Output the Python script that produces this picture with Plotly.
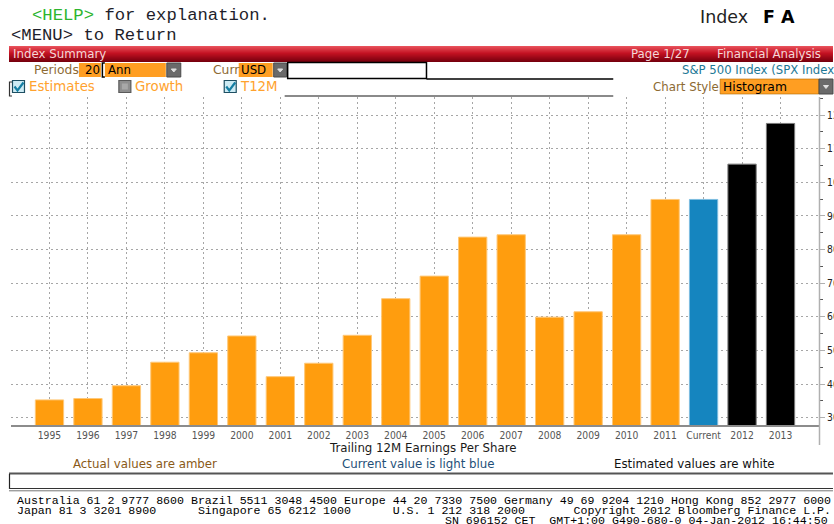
import plotly.graph_objects as go

# ---------------- data ----------------
categories = ["1995", "1996", "1997", "1998", "1999", "2000", "2001", "2002", "2003",
              "2004", "2005", "2006", "2007", "2008", "2009", "2010", "2011",
              "Current", "2012", "2013"]
eps_values = [35.3, 35.7, 39.5, 46.5, 49.3, 54.3, 42.2, 46.2, 54.5,
              65.4, 72.1, 83.7, 84.4, 59.9, 61.5, 84.4, 94.9,
              94.9, 105.4, 117.5]
bar_kind = ["actual"] * 17 + ["current"] + ["estimate"] * 2
y_ticks = [30, 40, 50, 60, 70, 80, 90, 100, 110, 120]

# ---------------- styling ----------------
fill_by_kind = {"actual": "#FF9D0E", "current": "#1585BF", "estimate": "#000000"}
edge_by_kind = {"actual": "#FFC878", "current": "#7DBDE0", "estimate": "#7A7A7A"}

# target picture geometry (pixels of the 834x524 picture)
W, H = 834, 524
L, R, T, B = 11, 820, 97, 425          # plot area
# horizontal compensation: the page is captured ~856 px wide and fitted to 834
K = 856 / 834
WF = 856
x_range = [-1.0, len(categories)]
y_range = [27.83, 125.36]


def px(x):
    return (x - L) / (R - L)


def py(y):
    return (B - y) / (B - T)


def fs(size):
    return round(size * K, 2)


shapes = []
annotations = []


def rect(x0, y0, x1, y1, fill, line=None, lw=0):
    shapes.append(dict(type="rect", xref="paper", yref="paper",
                       x0=px(x0), x1=px(x1), y0=py(y0), y1=py(y1),
                       fillcolor=fill, layer="above",
                       line=dict(color=line or fill, width=lw)))


def seg(x0, y0, x1, y1, color, width=1):
    shapes.append(dict(type="line", xref="paper", yref="paper",
                       x0=px(x0), x1=px(x1), y0=py(y0), y1=py(y1), layer="above",
                       line=dict(color=color, width=width)))


def path(points, color, width=1, fill=None, closed=False):
    d = "M " + " L ".join(f"{px(a):.5f},{py(b):.5f}" for a, b in points)
    if closed:
        d += " Z"
    shapes.append(dict(type="path", xref="paper", yref="paper", path=d, layer="above",
                       fillcolor=fill or "rgba(0,0,0,0)",
                       line=dict(color=color, width=width)))


def text(x, y, s, size, color, family="DejaVu Sans", anchor="left"):
    annotations.append(dict(xref="paper", yref="paper", x=px(x), y=py(y), text=s,
                            showarrow=False, xanchor=anchor, yanchor="middle",
                            font=dict(size=fs(size), color=color, family=family)))


MONO = "Liberation Mono, DejaVu Sans Mono, monospace"
SANS = "DejaVu Sans, Verdana, sans-serif"

# ---- top text ----
text(30, 16, '<span style="color:#2DB52D">&lt;HELP&gt;</span> for explanation.', 16.8, "#1E1E2A", MONO)
text(9, 36, "&lt;MENU&gt; to Return", 16.8, "#1E1E2A", MONO)
text(699, 17, "Index", 17, "#222222", SANS)
text(762, 17, "<b>F A</b>", 17, "#000000", SANS)

# ---- red header bar (vertical gradient) ----
top_c, mid_c, bot_c = (232, 80, 90), (196, 18, 34), (120, 0, 14)
n_rows = 16
for i in range(n_rows):
    t = i / (n_rows - 1)
    if t < 0.45:
        u = t / 0.45
        c = [int(top_c[k] + (mid_c[k] - top_c[k]) * u) for k in range(3)]
    else:
        u = (t - 0.45) / 0.55
        c = [int(mid_c[k] + (bot_c[k] - mid_c[k]) * u) for k in range(3)]
    rect(9, 46 + i, 834, 47 + i, f"rgb({c[0]},{c[1]},{c[2]})")
text(11, 54, "Index Summary", 11.5, "#F4D8D8", SANS)
text(630, 54, "Page 1/27", 11.5, "#F4D8D8", SANS)
text(716, 54, "Financial Analysis", 11.5, "#F4D8D8", SANS)

# ---- row 1 widgets ----
BROWN = "#8D6A33"
ORANGE_BOX = "#FF9E22"
text(32, 70, "Periods", 12, BROWN, SANS)
rect(79, 63, 101, 77, ORANGE_BOX)
text(83, 70, "20", 11.5, "#000000", SANS)
path([(105, 63), (102.5, 63), (102.5, 77), (105, 77)], "#000000", 1.5)
rect(105, 63, 166, 77, ORANGE_BOX)
text(106, 70, "Ann", 11.5, "#000000", SANS)


def dropdown(x0, y0, x1, y1):
    rect(x0, y0, x1, y1, "#6A6A6A", "#4A4A4A", 1)
    cx, cy = (x0 + x1) / 2, (y0 + y1) / 2
    path([(cx - 2.5, cy - 1), (cx + 2.5, cy - 1), (cx, cy + 2)], "#E0E0E0", 1, "#E0E0E0", True)


dropdown(167, 63, 181, 77)
text(211, 70, "Curr", 12, BROWN, SANS)
rect(239, 63, 273, 77, ORANGE_BOX)
text(239, 70, "USD", 11.5, "#000000", SANS)
dropdown(274, 63, 287, 77)
rect(288, 62.5, 427, 78.5, "#FFFFFF", "#000000", 1.5)
seg(427, 79, 614, 79, "#000000", 1.5)
text(681, 70, "S&amp;P 500 Index (SPX Index)", 11.4, "#1D7896", SANS)

# ---- row 2 widgets ----
path([(12, 82), (9.5, 82), (9.5, 96), (12, 96)], "#333333", 1.2)


def checkbox(x0, y0, checked):
    if checked:
        rect(x0, y0, x0 + 12, y0 + 12, "#CDEBF4", "#1E4F62", 1.2)
        path([(x0 + 2, y0 + 6), (x0 + 5, y0 + 10), (x0 + 11, y0 + 2)], "#157FA4", 2.2)
    else:
        rect(x0, y0, x0 + 12, y0 + 12, "#8E8E8E", "#5A5A5A", 1.2)
        rect(x0 + 3, y0 + 3, x0 + 9, y0 + 9, "#A8A8A8")


LIGHT_OR = "#FFA22E"
checkbox(12.5, 80.5, True)
text(27, 86, "Estimates", 13, LIGHT_OR, SANS)
checkbox(119, 80.5, False)
text(133, 86, "Growth", 13, LIGHT_OR, SANS)
checkbox(224.5, 80.5, True)
text(238, 86, "T12M", 13, LIGHT_OR, SANS)
seg(285, 96, 614, 96, "#8A8A8A", 2)
text(652, 87, "Chart Style", 11.5, BROWN, SANS)
rect(721, 79, 820, 94, ORANGE_BOX, "#B06A00", 0.6)
text(722, 87, "Histogram", 12, "#000000", SANS)
dropdown(820, 79, 834, 94)

# ---- right axis line extension ----
seg(820.5, 97, 820.5, 445, "#B0B0B0", 1.5)

# ---- bottom captions ----
text(424, 448, "Trailing 12M Earnings Per Share", 11.5, "#1A1A1A", SANS, "center")
text(71, 464, "Actual values are amber", 11.5, "#8A5A17", SANS)
text(340, 464, "Current value is light blue", 11.5, "#1F4F78", SANS)
text(613, 464, "Estimated values are white", 11.5, "#111111", SANS)
seg(9, 473.5, 834, 473.5, "#555555", 2)
seg(9.5, 474, 9.5, 489, "#222222", 1.2)
seg(9, 488.5, 834, 488.5, "#333333", 1)
seg(9, 490.8, 834, 490.8, "#777777", 1)

NB = "\u00a0"
footer1 = "Australia 61 2 9777 8600 Brazil 5511 3048 4500 Europe 44 20 7330 7500 Germany 49 69 9204 1210 Hong Kong 852 2977 6000"
footer2 = ("Japan 81 3 3201 8900" + NB * 6 + "Singapore 65 6212 1000" + NB * 6 +
           "U.S. 1 212 318 2000" + NB * 7 + "Copyright 2012 Bloomberg Finance L.P.")
footer3 = "SN 696152 CET" + NB * 2 + "GMT+1:00 G490-680-0 04-Jan-2012 16:44:50"
FOOT = 11.3
text(15, 500, footer1.replace(" ", NB), FOOT, "#000000", MONO)
text(15, 510, footer2.replace(" ", NB), FOOT, "#000000", MONO)
text(831, 520, footer3.replace(" ", NB), FOOT, "#000000", MONO, "right")

# ---------------- figure ----------------
x_idx = list(range(len(categories)))
fig = go.Figure()
fig.add_trace(go.Bar(
    x=x_idx, y=eps_values, width=0.735,
    marker=dict(color=[fill_by_kind[k] for k in bar_kind],
                line=dict(color=[edge_by_kind[k] for k in bar_kind], width=1)),
    hoverinfo="skip",
))

unit = (R - L) / (x_range[1] - x_range[0])
fig.add_trace(go.Scatter(
    x=[x_range[1] + 4.5 / unit] * len(y_ticks), y=y_ticks, mode="markers",
    marker=dict(symbol="triangle-right", size=6, color="#111111"),
    cliponaxis=False, hoverinfo="skip",
))

GRID = "#A6A6A6"
TICKFONT = "Liberation Sans Narrow, DejaVu Sans Condensed, sans-serif"
fig.update_layout(
    width=WF, height=H, autosize=False,
    margin=dict(l=L * K, r=WF - R * K, t=T, b=H - B),
    paper_bgcolor="#FFFFFF", plot_bgcolor="#FFFFFF",
    showlegend=False, bargap=0,
    shapes=shapes, annotations=annotations,
    xaxis=dict(range=x_range, tickmode="array", tickvals=x_idx, ticktext=categories,
               showgrid=True, gridcolor=GRID, griddash="2px,3px", gridwidth=1,
               showline=True, linecolor="#8C8C8C", linewidth=1.5, ticks="",
               zeroline=False, fixedrange=True,
               tickfont=dict(family=TICKFONT, size=fs(10), color="#555555")),
    yaxis=dict(range=y_range, side="right", tickmode="array", tickvals=y_ticks,
               showgrid=True, gridcolor=GRID, griddash="2px,3px", gridwidth=1,
               showline=False, zeroline=False, ticks="outside", ticklen=5,
               tickcolor="#B0B0B0", fixedrange=True,
               minor=dict(tick0=35, dtick=10, ticks="outside", ticklen=3,
                          tickcolor="#555555", showgrid=False),
               tickfont=dict(family=TICKFONT, size=fs(10), color="#222222")),
)

fig.write_html(
    "out.html",
    config={"displayModeBar": False, "staticPlot": True, "responsive": False},
    post_script=("document.documentElement.style.overflow='hidden';"
                 "document.body.style.margin='0';document.body.style.overflow='hidden';"
                 "var gd=document.getElementById('{plot_id}');"
                 "gd.style.overflow='hidden';"),
)
